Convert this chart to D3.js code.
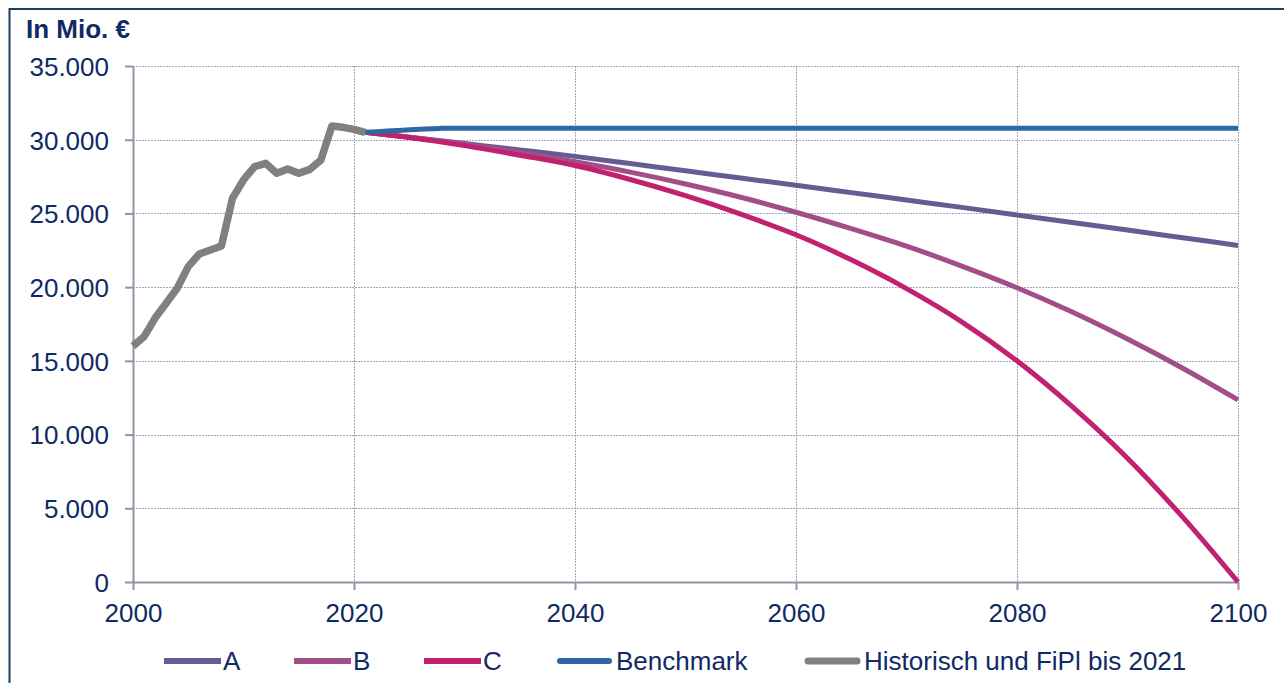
<!DOCTYPE html>
<html>
<head>
<meta charset="utf-8">
<script src="https://cdn.jsdelivr.net/npm/d3@7"></script>
<style>
  html, body { margin: 0; padding: 0; background: #ffffff; }
  svg { display: block; font-family: "Liberation Sans", Arial, sans-serif; }
</style>
</head>
<body>
<svg id="chart" width="1284" height="683"></svg>
<script>
// Historical values and the financial plan up to 2021 (Mio. €)
const histYears = [2000, 2001, 2002, 2003, 2004, 2005, 2006, 2007, 2008, 2009, 2010,
                   2011, 2012, 2013, 2014, 2015, 2016, 2017, 2018, 2019, 2020, 2021];
const histValues = [16000, 16640, 17900, 18900, 19920, 21390, 22250, 22520, 22790, 26020, 27270,
                    28170, 28400, 27720, 28010, 27720, 27990, 28620, 30930, 30840, 30700, 30500];

// Projection years for scenarios A, B, C
const projYears = [2021, 2025, 2030, 2035, 2040, 2045, 2050, 2055, 2060,
                   2065, 2070, 2075, 2080, 2085, 2090, 2095, 2100];
const seriesA = [30500, 30170, 29740, 29310, 28870, 28380, 27890, 27400, 26910,
                 26410, 25910, 25410, 24900, 24380, 23870, 23350, 22830];
const seriesB = [30500, 30170, 29690, 29130, 28500, 27800, 27000, 26100, 25080,
                 23970, 22780, 21430, 19960, 18310, 16480, 14500, 12350];
const seriesC = [30500, 30150, 29600, 28950, 28250, 27300, 26200, 24950, 23550,
                 21850, 19900, 17650, 15000, 11900, 8400, 4400, 0];

// Benchmark path
const benchYears = [2021, 2022, 2023, 2024, 2025, 2026, 2027, 2028, 2100];
const benchValues = [30500, 30545, 30590, 30630, 30670, 30705, 30740, 30770, 30770];

// Axis ticks and labels
const xTicks = [2000, 2020, 2040, 2060, 2080, 2100];
const yTicks = [0, 5000, 10000, 15000, 20000, 25000, 30000, 35000];
const unitLabel = "In Mio. €";
const legendLabels = ["A", "B", "C", "Benchmark", "Historisch und FiPl bis 2021"];

const colors = {
  A: "#675b96",
  B: "#a24f88",
  C: "#c1216f",
  bench: "#2f67a3",
  hist: "#808080",
  text: "#102a64",
  axis: "#9096a8",
  grid: "#a3a6ba",
  frame: "#1c3b6e"
};

const svg = d3.select("#chart");
const W = 1284, H = 683;
const FS = 26;
const plot = { left: 133, right: 1238, top: 66, bottom: 582 };

const x = d3.scaleLinear().domain([2000, 2100]).range([plot.left, plot.right]);
const y = d3.scaleLinear().domain([0, 35000]).range([plot.bottom, plot.top]);

const de = d3.formatLocale({ decimal: ",", thousands: ".", grouping: [3], currency: ["", " €"] });
const fmt = de.format(",.0f");

// outer frame
svg.append("rect")
  .attr("x", 9.5).attr("y", 9)
  .attr("width", W + 20).attr("height", H + 20)
  .attr("fill", "none")
  .attr("stroke", colors.frame)
  .attr("stroke-width", 2);

// unit label
svg.append("text")
  .attr("x", 26).attr("y", 37.5)
  .attr("fill", colors.text)
  .attr("font-size", FS)
  .attr("font-weight", "bold")
  .text(unitLabel);

// dotted grid
const grid = svg.append("g").attr("stroke", colors.grid).attr("stroke-width", 1)
  .attr("stroke-dasharray", "2,1");
grid.selectAll("line.h").data(yTicks.filter(d => d > 0)).join("line")
  .attr("x1", plot.left).attr("x2", plot.right)
  .attr("y1", d => Math.round(y(d)) + 0.5).attr("y2", d => Math.round(y(d)) + 0.5);
grid.selectAll("line.v").data(xTicks.filter(d => d > 2000)).join("line")
  .attr("x1", d => Math.round(x(d)) + 0.5).attr("x2", d => Math.round(x(d)) + 0.5)
  .attr("y1", plot.top).attr("y2", plot.bottom);

// y axis
const yAxis = svg.append("g")
  .attr("transform", `translate(${plot.left},0)`)
  .call(d3.axisLeft(y).tickValues(yTicks).tickFormat(fmt).tickSize(8).tickSizeOuter(0).tickPadding(16));
yAxis.select(".domain").attr("stroke", colors.axis).attr("stroke-width", 2);
yAxis.selectAll(".tick line").attr("stroke", colors.axis).attr("stroke-width", 2);
yAxis.selectAll(".tick text")
  .attr("fill", colors.text)
  .attr("font-size", FS)
  .attr("font-family", "Liberation Sans, Arial, sans-serif")
  .attr("dy", "0.36em");

// x axis
const xAxis = svg.append("g")
  .attr("transform", `translate(0,${plot.bottom})`)
  .call(d3.axisBottom(x).tickValues(xTicks).tickFormat(d3.format("d")).tickSize(8).tickSizeOuter(0).tickPadding(14));
xAxis.select(".domain").attr("stroke", colors.axis).attr("stroke-width", 2);
xAxis.selectAll(".tick line").attr("stroke", colors.axis).attr("stroke-width", 2);
xAxis.selectAll(".tick text")
  .attr("fill", colors.text)
  .attr("font-size", FS)
  .attr("font-family", "Liberation Sans, Arial, sans-serif")
  .attr("dy", "0.71em");

// lines
const smooth = d3.line().x(d => x(d[0])).y(d => y(d[1])).curve(d3.curveMonotoneX);
const straight = d3.line().x(d => x(d[0])).y(d => y(d[1]));

const proj = [
  { values: seriesA, color: colors.A },
  { values: seriesB, color: colors.B },
  { values: seriesC, color: colors.C }
];
proj.forEach(s => {
  svg.append("path")
    .datum(projYears.map((yr, i) => [yr, s.values[i]]))
    .attr("d", smooth)
    .attr("fill", "none")
    .attr("stroke", s.color)
    .attr("stroke-width", 5)
    .attr("stroke-linejoin", "round");
});

svg.append("path")
  .datum(benchYears.map((yr, i) => [yr, benchValues[i]]))
  .attr("d", smooth)
  .attr("fill", "none")
  .attr("stroke", colors.bench)
  .attr("stroke-width", 5)
  .attr("stroke-linejoin", "round");

svg.append("path")
  .datum(histYears.map((yr, i) => [yr, histValues[i]]))
  .attr("d", straight)
  .attr("fill", "none")
  .attr("stroke", colors.hist)
  .attr("stroke-width", 7.5)
  .attr("stroke-linejoin", "round");

// legend
const legendItems = [
  { label: legendLabels[0], color: colors.A, x1: 164, x2: 221, tx: 223, cap: "butt", w: 6 },
  { label: legendLabels[1], color: colors.B, x1: 294, x2: 351, tx: 353, cap: "butt", w: 6 },
  { label: legendLabels[2], color: colors.C, x1: 424, x2: 481, tx: 483, cap: "butt", w: 6 },
  { label: legendLabels[3], color: colors.bench, x1: 560, x2: 609, tx: 616, cap: "round", w: 6 },
  { label: legendLabels[4], color: colors.hist, x1: 808, x2: 857, tx: 864, cap: "round", w: 7 }
];
const lg = svg.append("g");
legendItems.forEach(it => {
  lg.append("line")
    .attr("x1", it.x1).attr("x2", it.x2)
    .attr("y1", 661).attr("y2", 661)
    .attr("stroke", it.color)
    .attr("stroke-width", it.w)
    .attr("stroke-linecap", it.cap);
  lg.append("text")
    .attr("x", it.tx)
    .attr("y", 670)
    .attr("fill", colors.text)
    .attr("font-size", FS)
    .text(it.label);
});
</script>
</body>
</html>
